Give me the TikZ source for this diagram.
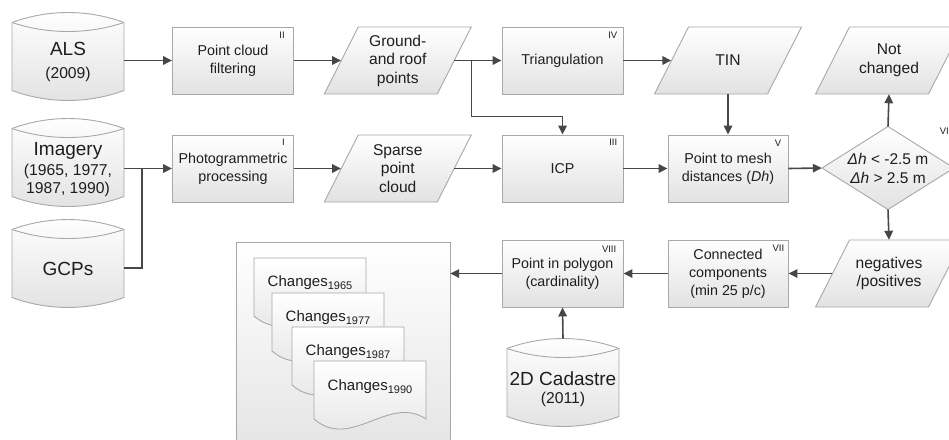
\documentclass[tikz,border=0pt]{standalone}
\usepackage{fontspec}
\setmainfont{Liberation Sans}
\usetikzlibrary{arrows.meta,calc}
\definecolor{bordercol}{HTML}{A8A8A8}
\definecolor{fillbot}{HTML}{E2E2E2}
\definecolor{conncol}{HTML}{474747}
\definecolor{txtcol}{HTML}{1E1E1E}
\newcommand\yrsub[1]{\raisebox{-3pt}{\fontsize{11}{11}\selectfont #1}}
\begin{document}
\begin{tikzpicture}[x=1pt,y=-1pt,
  shapefill/.style={draw=bordercol, line width=0.9pt, top color=white, bottom color=fillbot},
  boxst/.style={shapefill, rectangle, minimum width=121, minimum height=67, inner sep=0pt, align=center, font=\fontsize{14.3}{18}\selectfont, text=txtcol},
  holder/.style={rectangle, draw=none, inner sep=0pt, align=center, text=txtcol},
  paratext/.style={holder, minimum width=113, minimum height=67, font=\fontsize{15.6}{18.5}\selectfont},
  cylholder/.style={holder, minimum width=112, minimum height=60},
  cyltitle/.style={anchor=base, inner sep=0pt, text=txtcol, font=\fontsize{19}{22}\selectfont},
  cylsub/.style={anchor=base, inner sep=0pt, text=txtcol, font=\fontsize{15.7}{18.5}\selectfont},
  doctext/.style={holder, font=\fontsize{15}{18}\selectfont},
  romanlab/.style={anchor=north east, inner sep=0pt, font=\fontsize{9.5}{10}\selectfont, text=txtcol},
  conn/.style={draw=conncol, line width=1.6pt, -{Triangle[length=9pt,width=8.5pt]}},
  connplain/.style={draw=conncol, line width=1.6pt},
  cylpic/.pic={
    \path[shapefill] (-56,-34) .. controls (-20,-47.3) and (20,-47.3) .. (56,-34) -- (56,34) .. controls (20,47.3) and (-20,47.3) .. (-56,34) -- cycle;
    \draw[draw=bordercol, line width=0.9pt] (-56,-34) .. controls (-20,-22) and (20,-22) .. (56,-34);
  },
  parapic/.pic={
    \path[shapefill] (-73.5,33.5) -- (-39.5,-33.5) -- (73.5,-33.5) -- (39.5,33.5) -- cycle;
  },
  docpic/.pic={
    \path[shapefill] (0,0) -- (112,0) -- (112,58) .. controls (74.7,33) and (37.3,90) .. (0,58) -- cycle;
  }
]
\useasboundingbox (0,0) rectangle (949,439);
\clip (0,0) rectangle (949,439);

% output container
\path[shapefill] (236,242) rectangle (450,470);
\node[holder, minimum width=214, minimum height=228] (outbox) at (343,356) {};

% documents
\pic at (254,258) {docpic};
\node[doctext] (d1) at (310,283) {Changes\yrsub{1965}};
\pic at (272,293) {docpic};
\node[doctext] (d2) at (328,318) {Changes\yrsub{1977}};
\pic at (292,327) {docpic};
\node[doctext] (d3) at (348,352) {Changes\yrsub{1987}};
\pic at (314,361) {docpic};
\node[doctext] (d4) at (370,387) {Changes\yrsub{1990}};

% cylinders
\pic at (68,56.5) {cylpic};
\node[cylholder] (als) at (68,60.5) {};
\node[cyltitle] (alsA) at (68,55) {ALS};
\node[cylsub] (alsB) at (68,78) {(2009)};
\pic at (68,162.5) {cylpic};
\node[cylholder] (img) at (68,168.5) {};
\node[cyltitle] (imgA) at (68,155) {Imagery};
\node[cylsub] (imgB) at (68,175) {(1965, 1977,};
\node[cylsub] (imgC) at (68,193) {1987, 1990)};
\pic at (68,263.5) {cylpic};
\node[cylholder] (gcp) at (68,268) {};
\node[cyltitle] (gcpA) at (68,275) {GCPs};
\pic at (563,382.5) {cylpic};
\node[cylholder] (cad) at (563,388) {};
\node[cyltitle] (cadA) at (563,385) {2D Cadastre};
\node[cylsub] (cadB) at (563,403.5) {(2011)};
\coordinate (cadtop) at (563,338.5);

% process boxes
\node[boxst] (pcf) at (233,60.5) {Point cloud\\filtering};
\node[boxst] (photo) at (233,168.5) {Photogrammetric\\processing};
\node[boxst] (tri) at (562.5,60.5) {Triangulation};
\node[boxst] (icp) at (562.5,168.5) {ICP};
\node[boxst, minimum width=120] (ptm) at (728,168.5) {Point to mesh\\distances (\textit{Dh})};
\node[boxst, minimum width=120] (cc) at (728,273.5) {Connected\\components\\(min 25 p/c)};
\node[boxst] (pip) at (562.5,273.5) {Point in polygon\\(cardinality)};

% data parallelograms
\pic at (397.75,60.5) {parapic};
\node[paratext] (ground) at (397.75,60.5) {Ground-\\and roof\\points};
\pic at (397.75,168.5) {parapic};
\node[paratext] (sparse) at (397.75,168.5) {Sparse\\point\\cloud};
\pic at (728,60.5) {parapic};
\node[paratext] (tin) at (728,60.5) {TIN};
\pic at (889,60.5) {parapic};
\node[paratext] (notch) at (889,60.5) {Not\\changed};
\pic at (889,273.5) {parapic};
\node[paratext] (neg) at (889,273.5) {negatives\\/positives};

% decision
\path[shapefill] (822,168) -- (888,126.5) -- (954,168) -- (888,209.5) -- cycle;
\node[holder, minimum width=132, minimum height=83, font=\fontsize{15.5}{19}\selectfont] (dia) at (888,168) {\textit{Δh} < -2.5 m\\\textit{Δh} > 2.5 m};

% roman labels
\node[romanlab] (rI) at ([xshift=-9pt,yshift=-4pt]photo.north east) {I};
\node[romanlab] (rII) at ([xshift=-9pt,yshift=-5pt]pcf.north east) {II};
\node[romanlab] (rIII) at ([xshift=-6pt,yshift=-4pt]icp.north east) {III};
\node[romanlab] (rIV) at ([xshift=-6pt,yshift=-5pt]tri.north east) {IV};
\node[romanlab] (rV) at ([xshift=-7pt,yshift=-5pt]ptm.north east) {V};
\node[romanlab] (rVI) at (949,128) {VI};
\node[romanlab] (rVII) at ([xshift=-4pt,yshift=-5pt]cc.north east) {VII};
\node[romanlab] (rVIII) at ([xshift=-7pt,yshift=-6pt]pip.north east) {VIII};

% connectors
\coordinate (junc) at (142,168.5);
\draw[conn] (als.east) -- (pcf.west);
\draw[conn] (pcf.east) -- (ground.west);
\draw[conn] (ground.east) -- (tri.west);
\draw[conn] ($(ground.east)+(17,0)$) |- ($(icp.north)+(0,-18)$) -- (icp.north);
\draw[conn] (tri.east) -- (tin.west);
\draw[conn] (tin.south) -- (ptm.north);
\draw[conn] (img.east) -- (photo.west);
\draw[connplain] (gcp.east) -| (junc);
\draw[conn] (photo.east) -- (sparse.west);
\draw[conn] (sparse.east) -- (icp.west);
\draw[conn] (icp.east) -- (ptm.west);
\draw[conn] (ptm.east) -- (dia.west);
\draw[conn] (dia.north) -- (notch.south);
\draw[conn] (dia.south) -- (neg.north);
\draw[conn] (neg.west) -- (cc.east);
\draw[conn] (cc.west) -- (pip.east);
\draw[conn] (pip.west) -- (pip.west -| outbox.east);
\draw[conn] (cadtop) -- (pip.south);
\end{tikzpicture}
\end{document}
